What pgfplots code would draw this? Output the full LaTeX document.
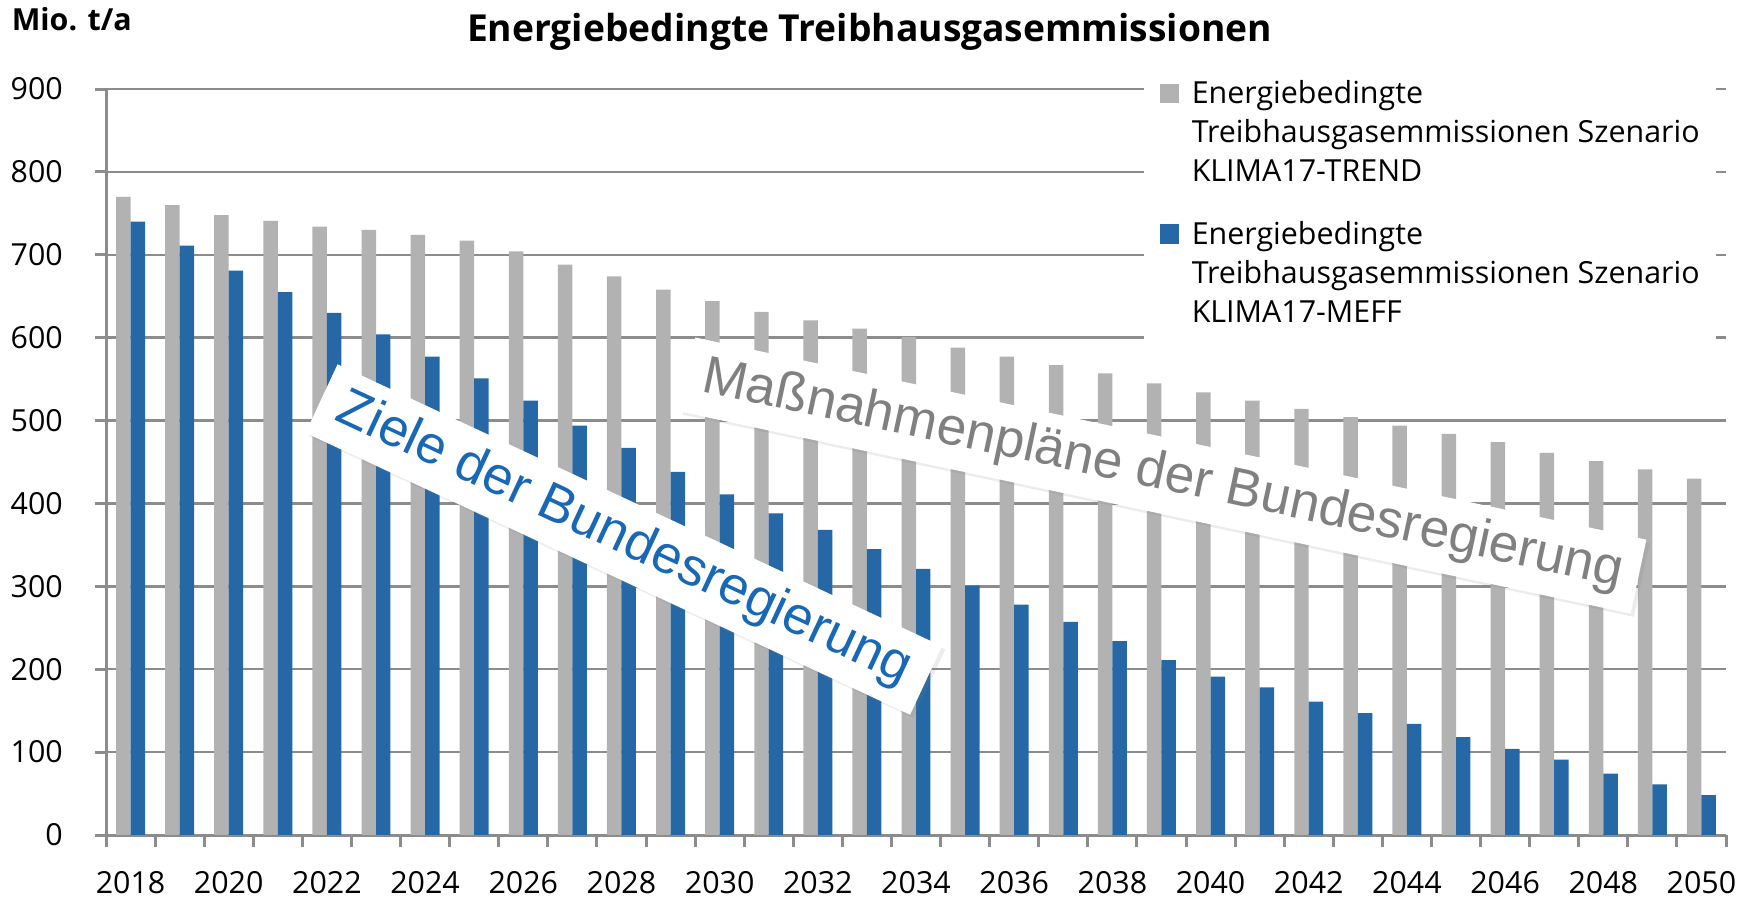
\documentclass[border=0pt]{standalone}
\usepackage{fontspec}
\setmainfont{Open Sans}
\newfontfamily\arialfont{Liberation Sans}
\usepackage{pgfplots}
\pgfplotsset{compat=1.18}
\usetikzlibrary{shadows}

\definecolor{trendgray}{RGB}{178,178,178}
\definecolor{meffblue}{RGB}{37,104,165}
\definecolor{gridgray}{RGB}{140,140,140}
\definecolor{zielblue}{RGB}{24,104,182}
\definecolor{massgray}{RGB}{128,128,128}

% year index 0 = 2018 ... 32 = 2050
\pgfplotstableread{
i  trend meff
0  770 740
1  760 711
2  748 681
3  741 655
4  734 630
5  730 604
6  724 577
7  717 551
8  704 524
9  688 494
10 674 467
11 658 438
12 644 411
13 631 388
14 621 368
15 611 345
16 601 321
17 588 301
18 577 278
19 567 257
20 557 234
21 545 211
22 534 191
23 524 178
24 514 161
25 504 147
26 494 134
27 484 118
28 474 104
29 461 91
30 451 74
31 441 61
32 430 48
}\emissions

\begin{document}
\begin{tikzpicture}[font=\fontsize{7.6bp}{9.7bp}\selectfont]
\path[use as bounding box] (-26.5bp,-15.5bp) rectangle (410.5bp,208.75bp);
\begin{axis}[
    scale only axis,
    width=405bp, height=186.5bp,
    xmin=-0.5, xmax=32.5,
    ymin=0, ymax=900,
    axis x line*=bottom,
    axis y line*=left,
    axis line style={draw=gridgray, line width=0.75bp},
    ybar, bar width=0.295,
    ytick={0,100,...,900},
    xtick={0,2,...,32},
    xticklabels={2018,2020,2022,2024,2026,2028,2030,2032,2034,2036,2038,2040,2042,2044,2046,2048,2050},
    minor xtick={-0.5,0.5,...,32.5},
    tick align=outside,
    major tick length=2.75bp,
    minor tick length=3bp,
    major x tick style={draw=none},
    minor x tick style={draw=gridgray, line width=0.75bp},
    ytick style={draw=gridgray, line width=0.75bp},
    ymajorgrids,
    major grid style={draw=gridgray, line width=0.6bp},
    /pgf/number format/assume math mode=true,
    yticklabel style={inner sep=0pt, xshift=-7.85bp},
    xticklabel style={inner sep=0pt, yshift=-6.2bp},
    legend cell align=left,
    legend style={at={(0.6401,1.0445)}, anchor=north west, draw=none, fill=white,
        inner xsep=4bp, inner ysep=6bp, row sep=10bp, column sep=3.25bp,
        cells={anchor=base west},
        nodes={inner sep=0pt, text depth=, align=left, anchor=base west}},
    legend image code/.code={\fill[#1] (0bp,19.5bp) rectangle (4.75bp,24.4bp);},
]
\addplot[fill=trendgray, draw=none, bar shift=-0.1475] table[x=i, y=trend] {\emissions};
\addlegendentry{Energiebedingte\\Treibhausgasemmissionen Szenario\\KLIMA17-TREND}
\addplot[fill=meffblue, draw=none, bar shift=0.1475] table[x=i, y=meff] {\emissions};
\addlegendentry{Energiebedingte\\Treibhausgasemmissionen Szenario\\KLIMA17-MEFF}
\end{axis}

\node[anchor=base, inner sep=0pt, font=\bfseries\fontsize{9.3bp}{11bp}\selectfont] at (190.9bp,198.25bp) {Energiebedingte Treibhausgasemmissionen};
\node[anchor=base west, inner sep=0pt, font=\bfseries\fontsize{7.6bp}{9bp}\selectfont] at (-23.75bp,201bp) {Mio. t/a};

\node[rotate=-25, anchor=base, fill=white, inner xsep=5bp, inner ysep=3.25bp,
      text=zielblue, font=\arialfont\fontsize{13.3bp}{15bp}\selectfont,
      drop shadow={opacity=0.15, shadow xshift=0.8bp, shadow yshift=-0.8bp}]
      at (128bp,70.75bp) {Ziele der Bundesregierung};
\node[rotate=-12, anchor=base, fill=white, inner xsep=4bp, inner ysep=3.25bp,
      text=massgray, font=\arialfont\fontsize{13.3bp}{15bp}\selectfont,
      drop shadow={opacity=0.15, shadow xshift=0.8bp, shadow yshift=-0.8bp}]
      at (263.5bp,86.5bp) {Maßnahmenpläne der Bundesregierung};
\end{tikzpicture}
\end{document}
